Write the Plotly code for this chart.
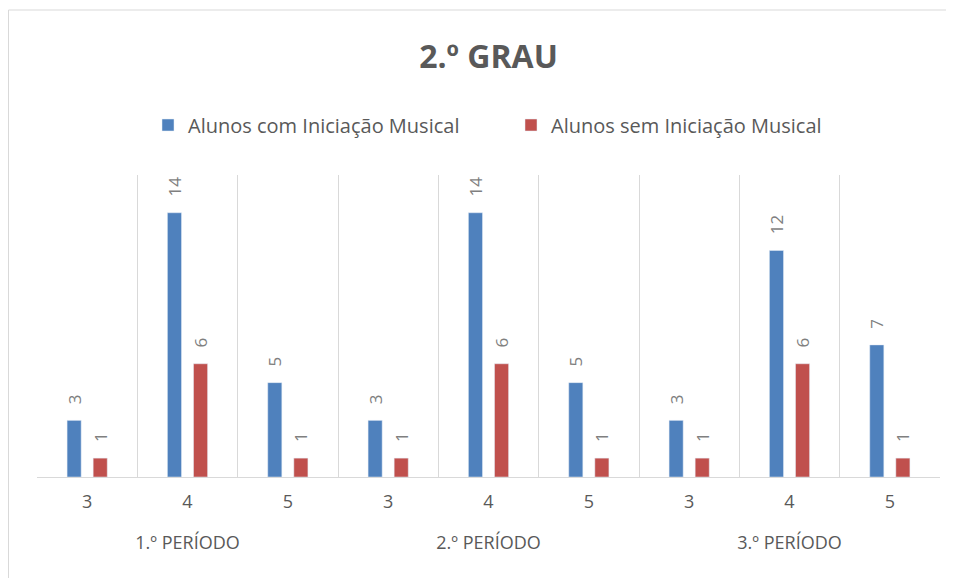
import plotly.graph_objects as go

periods = ["<br>1.º PERÍODO"] * 3 + ["<br>2.º PERÍODO"] * 3 + ["<br>3.º PERÍODO"] * 3
grades = ["3", "4", "5", "3", "4", "5", "3", "4", "5"]
com_iniciacao = [3, 14, 5, 3, 14, 5, 3, 12, 7]
sem_iniciacao = [1, 6, 1, 1, 6, 1, 1, 6, 1]
series_names = ["Alunos com Iniciação Musical", "Alunos sem Iniciação Musical"]
title_text = "2.º GRAU"

FONT = "Open Sans"
label_font = dict(family=FONT, size=17, color="#7f7f7f")
pad = "\u00a0\u00a0\u00a0"

# page offset of 8px (body margin) is accounted for
L, T, B, R = 29, 167, 469, 932
W, H = 954, 578

fig = go.Figure()
fig.add_trace(go.Bar(
    x=[periods, grades], y=com_iniciacao, name=series_names[0],
    marker_color="#4F81BD", texttemplate=pad + "%{y}", textposition="outside",
    textangle=-90, textfont=label_font, cliponaxis=False, constraintext="none",
))
fig.add_trace(go.Bar(
    x=[periods, grades], y=sem_iniciacao, name=series_names[1],
    marker_color="#C0504D", texttemplate=pad + "%{y}", textposition="outside",
    textangle=-90, textfont=label_font, cliponaxis=False, constraintext="none",
))

fig.update_layout(
    width=W, height=H,
    margin=dict(l=L, r=W - R, t=T, b=H - B, autoexpand=False),
    paper_bgcolor="white", plot_bgcolor="white",
    barmode="group", bargap=0.48, bargroupgap=0.46,
    uniformtext=dict(mode=False),
    title=dict(text="<b>" + title_text + "</b>", x=0.5, xanchor="center",
               xref="paper", yref="container",
               y=1 - 49 / H, yanchor="middle",
               font=dict(family=FONT, size=32, color="#595959")),
    legend=dict(orientation="h", xref="container", x=140 / W, xanchor="left",
                yref="container", y=1 - 117 / H, yanchor="middle",
                font=dict(family=FONT, size=20, color="#595959"),
                itemwidth=30, traceorder="normal", entrywidth=318),
    font=dict(family=FONT, color="#595959"),
    showlegend=True,
)
fig.update_xaxes(
    type="multicategory", tickson="boundaries", showgrid=True, gridcolor="#d9d9d9",
    gridwidth=1, showline=True, linecolor="#d9d9d9", ticks="", showdividers=False,
    tickfont=dict(family=FONT, size=18, color="#595959"), automargin=False,
    ticklabelstandoff=8,
)
fig.update_yaxes(range=[0, 16], visible=False, showgrid=False, zeroline=False)

pw, ph = R - L, B - T
fig.add_shape(type="rect", xref="paper", yref="paper",
              x0=(0.5 - L) / pw, x1=1.08, y0=-0.5, y1=(B - 2) / ph,
              line=dict(color="#d9d9d9", width=1), fillcolor="rgba(0,0,0,0)", layer="below")

fig.write_html("out.html")
